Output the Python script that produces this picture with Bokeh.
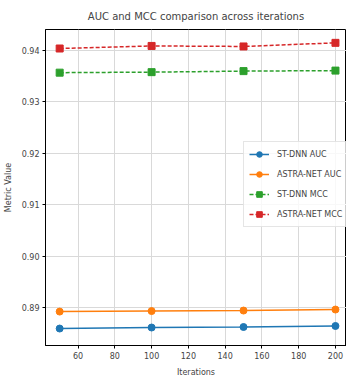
from bokeh.plotting import figure
from bokeh.models import FixedTicker, PrintfTickFormatter, Range1d, Legend, LegendItem
from bokeh.embed import file_html
from bokeh.resources import INLINE

iterations = [50, 100, 150, 200]
st_dnn_auc = [0.8859, 0.8861, 0.8862, 0.8864]
astra_net_auc = [0.8892, 0.8893, 0.8894, 0.8896]
st_dnn_mcc = [0.9357, 0.9358, 0.9360, 0.9361]
astra_net_mcc = [0.9404, 0.9409, 0.9408, 0.9415]
x_ticks = [60, 80, 100, 120, 140, 160, 180, 200]
y_ticks = [0.89, 0.90, 0.91, 0.92, 0.93, 0.94]

FONT = "DejaVu Sans"

p = figure(width=346, height=379, output_backend="svg", toolbar_location=None,
           x_range=Range1d(42.3, 206.0), y_range=Range1d(0.8826, 0.9441),
           title="AUC and MCC comparison across iterations",
           min_border_left=44, min_border_right=0, min_border_top=29, min_border_bottom=0)

p.title.text_font = FONT
p.title.text_font_size = "10px"
p.title.text_font_style = "normal"
p.title.align = "center"
p.title.standoff = 16

p.xaxis.ticker = FixedTicker(ticks=x_ticks)
p.yaxis.ticker = FixedTicker(ticks=y_ticks)
p.yaxis.formatter = PrintfTickFormatter(format="%.2f")
p.xaxis.axis_label = "Iterations"
p.yaxis.axis_label = "Metric Value"
for ax in (p.xaxis[0], p.yaxis[0]):
    ax.major_label_text_font = FONT
    ax.major_label_text_font_size = "8px"
    ax.axis_label_text_font = FONT
    ax.axis_label_text_font_size = "8px"
    ax.axis_label_text_font_style = "normal"
    ax.major_tick_out = 3
    ax.major_tick_in = 0
    ax.minor_tick_out = 0
    ax.minor_tick_in = 0
    ax.axis_line_color = "black"
    ax.major_tick_line_color = "black"
    ax.major_label_standoff = 3
p.xaxis.axis_label_standoff = 6
p.yaxis.axis_label_standoff = 6

p.outline_line_color = "black"
p.outline_line_width = 1
p.xgrid.grid_line_color = "#d9d9d9"
p.ygrid.grid_line_color = "#d9d9d9"

r1 = p.line(iterations, st_dnn_auc, color="#1f77b4", line_width=1.5)
m1 = p.scatter(iterations, st_dnn_auc, marker="circle", size=7, color="#1f77b4")
r2 = p.line(iterations, astra_net_auc, color="#ff7f0e", line_width=1.5)
m2 = p.scatter(iterations, astra_net_auc, marker="circle", size=7, color="#ff7f0e")
r3 = p.line(iterations, st_dnn_mcc, color="#2ca02c", line_width=1.5, line_dash="4 2")
m3 = p.scatter(iterations, st_dnn_mcc, marker="square", size=7, color="#2ca02c")
r4 = p.line(iterations, astra_net_mcc, color="#d62728", line_width=1.5, line_dash="4 2")
m4 = p.scatter(iterations, astra_net_mcc, marker="square", size=7, color="#d62728")

legend = Legend(items=[
    LegendItem(label="ST-DNN AUC", renderers=[r1, m1]),
    LegendItem(label="ASTRA-NET AUC", renderers=[r2, m2]),
    LegendItem(label="ST-DNN MCC", renderers=[r3, m3]),
    LegendItem(label="ASTRA-NET MCC", renderers=[r4, m4]),
], location=(198, 118))
legend.label_text_font = FONT
legend.label_text_font_size = "8px"
legend.glyph_width = 20
legend.glyph_height = 14
legend.spacing = 6
legend.padding = 5
legend.label_standoff = 8
legend.label_height = 14
legend.border_line_color = "#cccccc"
legend.background_fill_alpha = 0.8
p.add_layout(legend, "center")

open("out.html", "w").write(file_html(p, INLINE))
